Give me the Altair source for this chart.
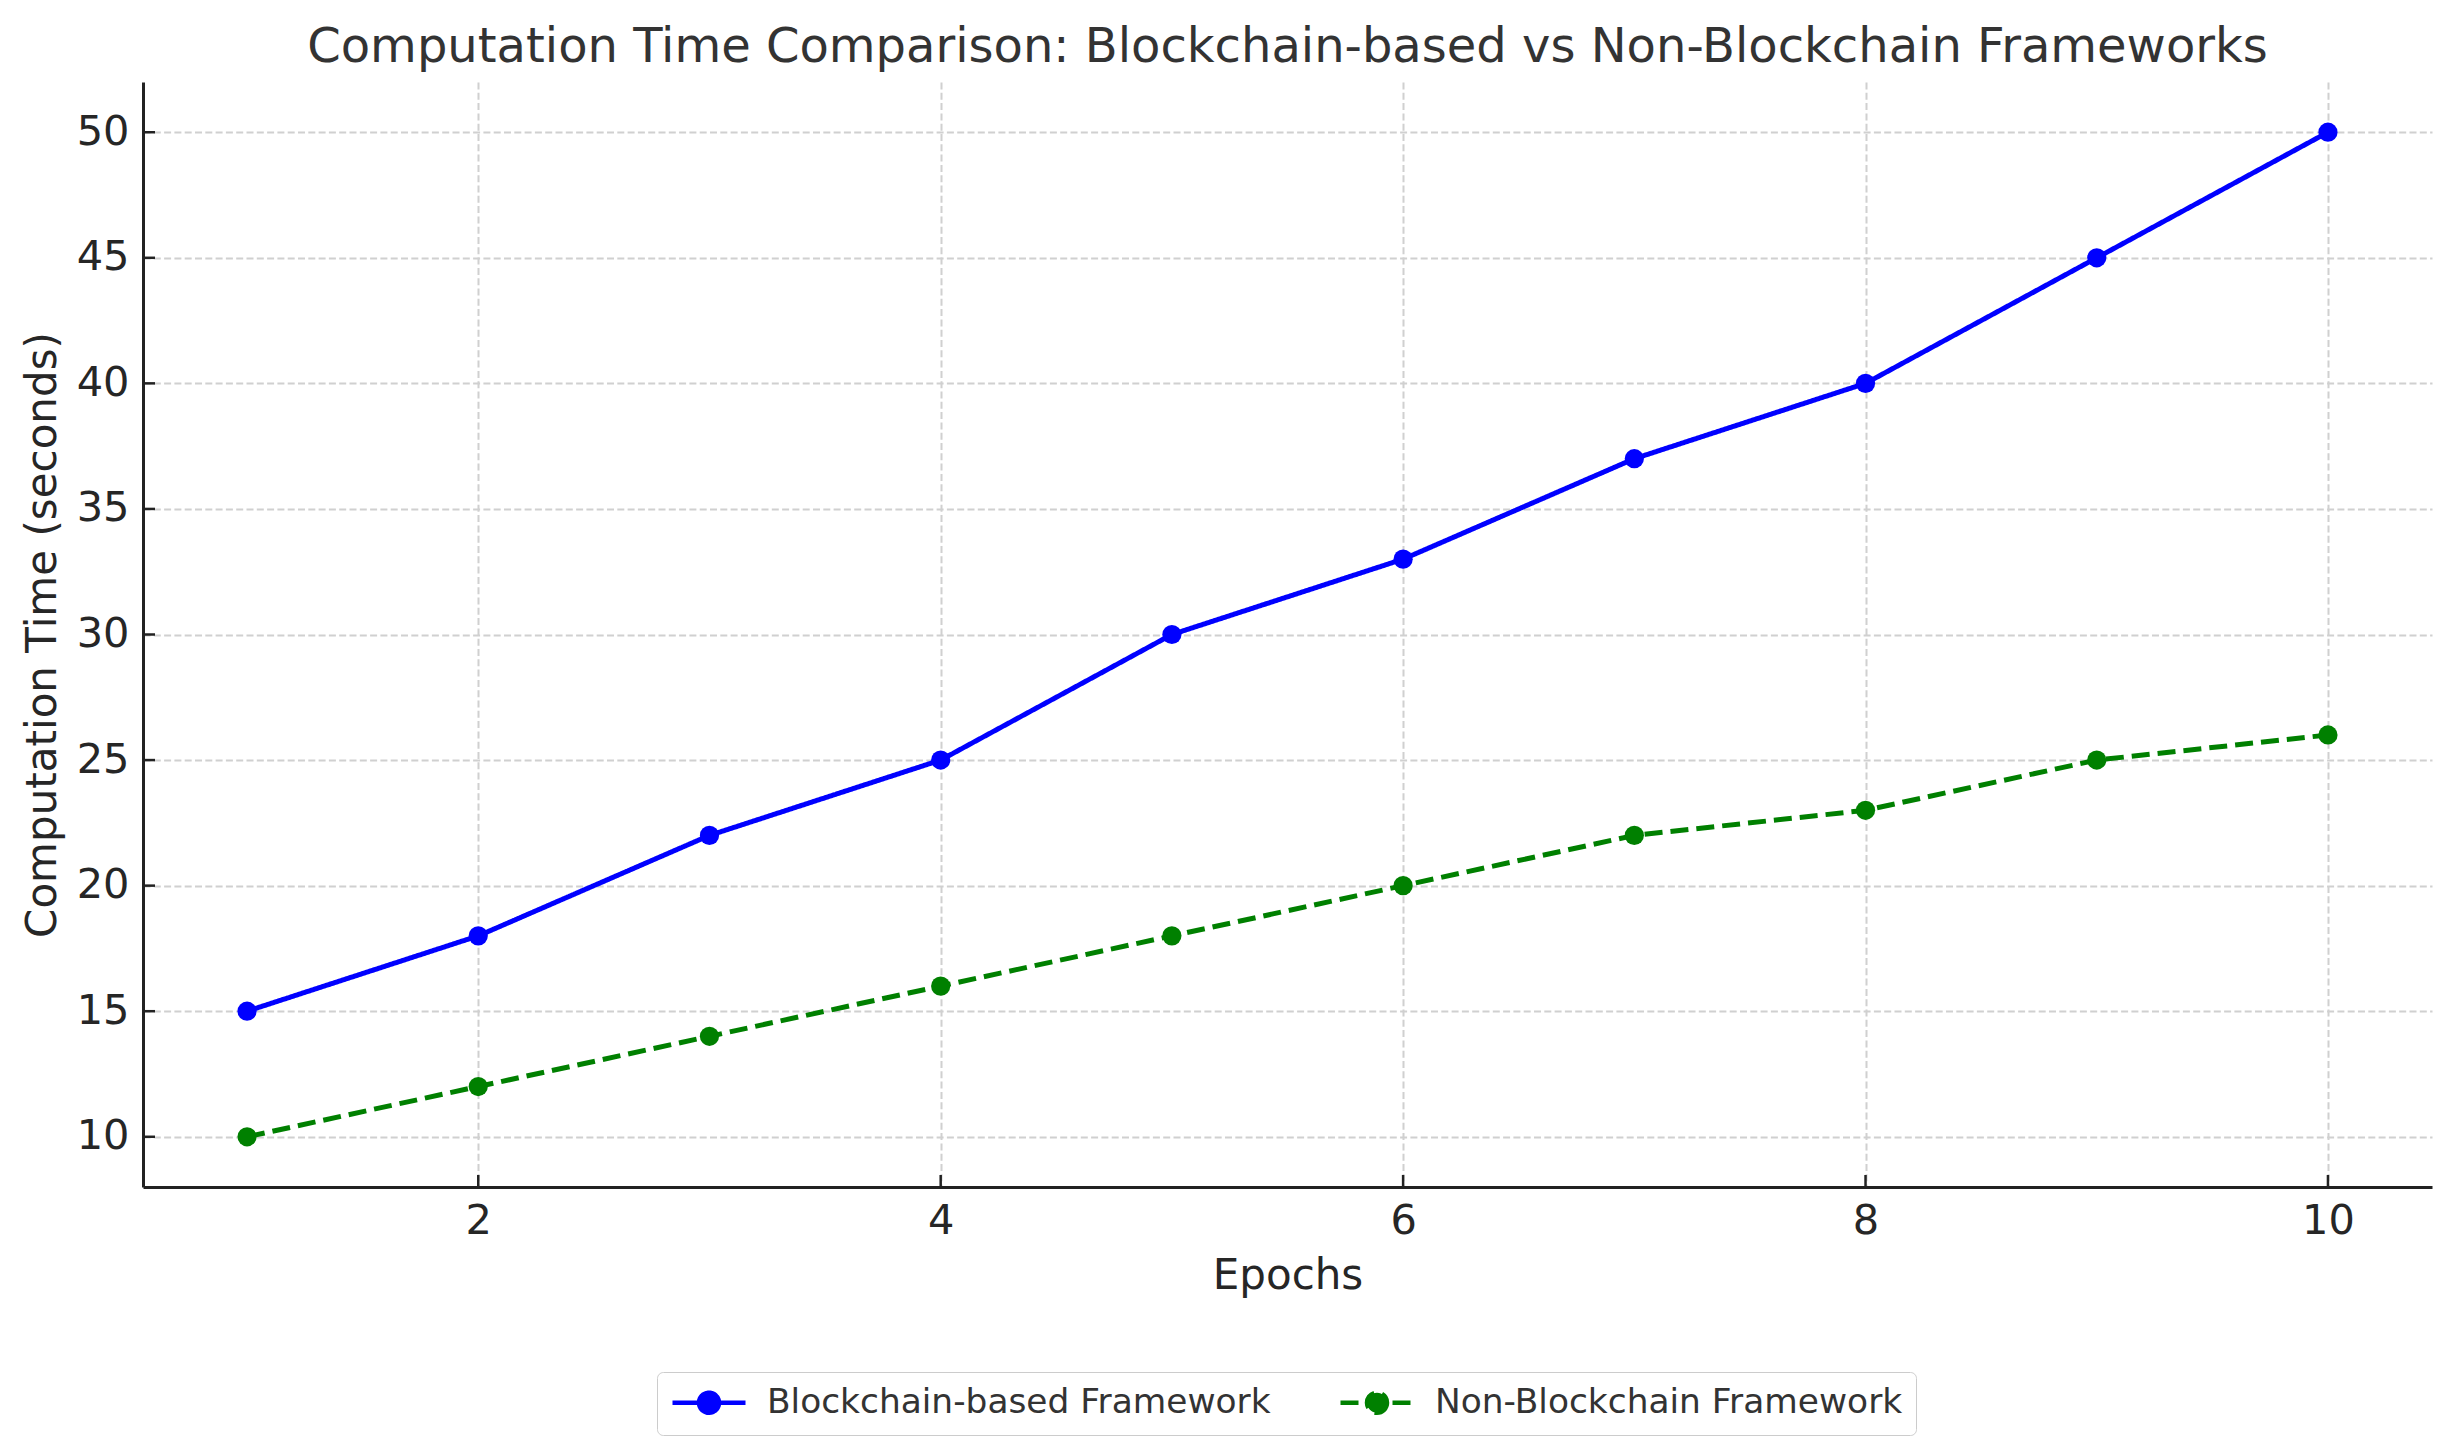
import altair as alt
import pandas as pd

epochs = [1, 2, 3, 4, 5, 6, 7, 8, 9, 10]
blockchain = [15, 18, 22, 25, 30, 33, 37, 40, 45, 50]
non_blockchain = [10, 12, 14, 16, 18, 20, 22, 23, 25, 26]
series_names = ["Blockchain-based Framework", "Non-Blockchain Framework"]
series_colors = ["#0000ff", "#008000"]
x_ticks = [2, 4, 6, 8, 10]
y_ticks = [10, 15, 20, 25, 30, 35, 40, 45, 50]

rows = []
for e, b, n in zip(epochs, blockchain, non_blockchain):
    rows.append({"Epoch": e, "Time": b, "Series": series_names[0]})
    rows.append({"Epoch": e, "Time": n, "Series": series_names[1]})
df = pd.DataFrame(rows)
xt = pd.DataFrame({"Epoch": x_ticks})
yt = pd.DataFrame({"Time": y_ticks})

W, H = 2289, 1105
FONT = "DejaVu Sans"

x_enc = alt.X(
    "Epoch:Q",
    scale=alt.Scale(domain=[0.55, 10.45], nice=False, zero=False),
    axis=alt.Axis(
        title="Epochs", values=x_ticks, grid=True, ticks=False, tickSize=0,
        labelPadding=13, titleY=101, titleBaseline="alphabetic",
    ),
)
y_enc = alt.Y(
    "Time:Q",
    scale=alt.Scale(domain=[8, 52], nice=False, zero=False),
    axis=alt.Axis(
        title="Computation Time (seconds)", values=y_ticks, grid=True, ticks=False,
        tickSize=0, labelPadding=14, titleX=-88, titleY=H / 2,
        titleBaseline="alphabetic", titleAngle=270,
    ),
)

# legend symbol: a 73px line with a 20px dot, nominal box 30px (scale 15 px/unit)
legend_path = ("M-1,0L3.867,0M2.1,0A0.667,0.667,0,1,1,0.766,0"
               "A0.667,0.667,0,1,1,2.1,0Z")

def make_legend():
    return alt.Legend(
        title=None, orient="none", direction="horizontal",
        legendX=514, legendY=1290,
        symbolType=legend_path, symbolSize=900, symbolStrokeWidth=4.5,
        labelFont=FONT, labelFontSize=34.4, labelColor="#333333", labelLimit=0,
        labelOffset=62, columnPadding=60, padding=13,
        strokeColor="#cccccc", fillColor="#ffffff", cornerRadius=6,
    )

color_enc = alt.Color(
    "Series:N",
    scale=alt.Scale(domain=series_names, range=series_colors),
    legend=make_legend(),
)
dash_enc = alt.StrokeDash(
    "Series:N",
    scale=alt.Scale(domain=series_names, range=[[1, 0], [18, 8]]),
    legend=make_legend(),
)

lines = alt.Chart(df).mark_line(strokeWidth=5).encode(
    x=x_enc, y=y_enc, color=color_enc, strokeDash=dash_enc
)
points = alt.Chart(df).mark_point(filled=True, size=370, opacity=1).encode(
    x=x_enc, y=y_enc, color=color_enc
)
xtick_rules = alt.Chart(xt).mark_rule(color="#222222", strokeWidth=2.5).encode(
    x=x_enc, y=alt.value(H), y2=alt.value(H - 12)
)
ytick_rules = alt.Chart(yt).mark_rule(color="#222222", strokeWidth=2.5).encode(
    y=y_enc, x=alt.value(0), x2=alt.value(12)
)

chart = alt.layer(xtick_rules, ytick_rules, lines, points).properties(
    width=W, height=H,
    title=alt.TitleParams(
        "Computation Time Comparison: Blockchain-based vs Non-Blockchain Frameworks",
        font=FONT, fontSize=48, fontWeight="normal", color="#333333",
        anchor="middle", offset=10,
    ),
    autosize=alt.AutoSizeParams(type="none"),
    padding={"left": 135, "top": 74, "right": 10, "bottom": 250},
).configure_view(stroke=None).configure_axis(
    labelFont=FONT, labelFontSize=41.5, labelColor="#262626",
    titleFont=FONT, titleFontSize=42, titleColor="#262626", titleFontWeight="normal",
    domainColor="#222222", domainWidth=3,
    gridColor="#d0d0d0", gridWidth=2, gridDash=[7, 3.3],
)

chart.save("out.html", embed_options={"renderer": "svg", "actions": False})
